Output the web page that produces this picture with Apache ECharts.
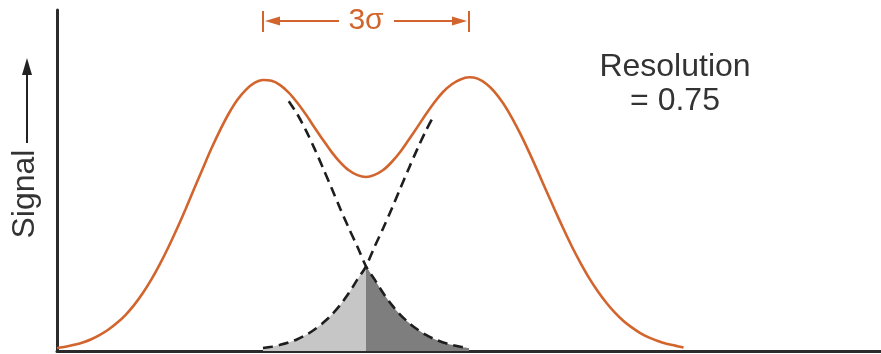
<!DOCTYPE html>
<html>
<head>
<meta charset="utf-8">
<script src="https://cdn.jsdelivr.net/npm/echarts@6/dist/echarts.min.js"></script>
<style>html,body{margin:0;padding:0;background:#fff;}#chart{width:881px;height:354px;}</style>
</head>
<body>
<div id="chart"></div>
<script>
// Combined signal (orange)
const sumX = [0,0.125,0.25,0.375,0.5,0.625,0.75,0.875,1,1.125,1.25,1.375,1.5,1.625,1.75,1.875,2,2.125,2.25,2.375,2.5,2.625,2.75,2.875,3,3.125,3.25,3.375,3.5,3.625,3.75,3.875,4,4.125,4.25,4.375,4.5,4.625,4.75,4.875,5,5.125,5.25,5.375,5.5,5.625,5.75,5.875,6,6.125,6.25,6.375,6.5,6.625,6.75,6.875,7,7.125,7.25,7.375,7.5,7.625,7.75,7.875,8,8.125,8.25,8.375,8.5,8.625,8.75,8.875,9,9.125];
const sumY = [0.011,0.016,0.023,0.032,0.044,0.060,0.080,0.105,0.135,0.172,0.216,0.267,0.325,0.389,0.458,0.531,0.607,0.682,0.756,0.824,0.885,0.936,0.974,1.000,1.011,1.008,0.992,0.964,0.926,0.882,0.834,0.787,0.742,0.704,0.674,0.656,0.649,0.657,0.675,0.705,0.743,0.789,0.836,0.884,0.929,0.967,0.995,1.013,1.021,1.016,0.997,0.966,0.923,0.870,0.809,0.742,0.671,0.598,0.526,0.456,0.389,0.328,0.272,0.223,0.180,0.143,0.112,0.087,0.066,0.050,0.037,0.027,0.020,0.013];
// Left component peak (dashed part)
const leftX = [3.375,3.5,3.625,3.75,3.875,4,4.125,4.25,4.375,4.5,4.625,4.75,4.875,5,5.125,5.25,5.375,5.5,5.625,5.75,5.875,6];
const leftY = [0.932,0.883,0.823,0.755,0.682,0.607,0.531,0.458,0.389,0.316,0.267,0.216,0.172,0.135,0.105,0.080,0.060,0.044,0.032,0.023,0.016,0.011];
// Right component peak (dashed part)
const rightX = [3,3.125,3.25,3.375,3.5,3.625,3.75,3.875,4,4.125,4.25,4.375,4.5,4.625,4.75,4.875,5,5.125,5.25,5.375,5.5];
const rightY = [0.011,0.016,0.023,0.032,0.044,0.060,0.080,0.105,0.135,0.172,0.216,0.267,0.316,0.389,0.458,0.531,0.607,0.682,0.755,0.823,0.883];
// Peak centres (3 sigma apart)
const peakCentres = [3, 6];
const sepLabel = '3σ';
const resolutionText = ['Resolution', '= 0.75'];
const yLabel = 'Signal';

const ORANGE = '#d2652d';
const FONT = '"Liberation Sans", Arial, Helvetica, sans-serif';

function pairs(xs, ys) { return xs.map((x, i) => [x, ys[i]]); }
const crossIdxR = rightX.indexOf(4.5);
const crossIdxL = leftX.indexOf(4.5);

const chart = echarts.init(document.getElementById('chart'), null, {renderer: 'canvas'});
const axisLine = {show: true, onZero: false, lineStyle: {color: '#2b2b2b', width: 3}};
chart.setOption({
  animation: false,
  grid: {left: 57, right: 0, top: 10, bottom: 3},
  xAxis: {type: 'value', min: 0, max: 12, axisLine: axisLine, axisTick: {show: false}, axisLabel: {show: false}, splitLine: {show: false}},
  yAxis: {type: 'value', min: 0, max: 1.272, axisLine: axisLine, axisTick: {show: false}, axisLabel: {show: false}, splitLine: {show: false}},
  series: [
    {type: 'line', data: pairs(rightX.slice(0, crossIdxR + 1), rightY.slice(0, crossIdxR + 1)), smooth: 0.3, symbol: 'none',
     lineStyle: {width: 0}, areaStyle: {color: '#c6c6c6', opacity: 1}, z: 1},
    {type: 'line', data: pairs(leftX.slice(crossIdxL), leftY.slice(crossIdxL)), smooth: 0.3, symbol: 'none',
     lineStyle: {width: 0}, areaStyle: {color: '#7e7e7e', opacity: 1}, z: 1},
    {type: 'line', data: pairs(leftX, leftY), smooth: 0.3, symbol: 'none',
     lineStyle: {color: '#1e1e1e', width: 2.6, type: [10, 6]}, z: 2},
    {type: 'line', data: pairs(rightX, rightY), smooth: 0.3, symbol: 'none',
     lineStyle: {color: '#1e1e1e', width: 2.6, type: [10, 6]}, z: 2},
    {type: 'line', data: pairs(sumX, sumY), smooth: 0.3, symbol: 'none',
     lineStyle: {color: ORANGE, width: 2.6}, z: 3}
  ]
});

const x1 = chart.convertToPixel({xAxisIndex: 0}, peakCentres[0]);
const x2 = chart.convertToPixel({xAxisIndex: 0}, peakCentres[1]);
const mid = (x1 + x2) / 2;
const ay = 21;
chart.setOption({
  graphic: [
    {type: 'line', shape: {x1: x1, y1: 11, x2: x1, y2: 32}, style: {stroke: ORANGE, lineWidth: 2}},
    {type: 'line', shape: {x1: x2, y1: 11, x2: x2, y2: 32}, style: {stroke: ORANGE, lineWidth: 2}},
    {type: 'line', shape: {x1: x1 + 8, y1: ay, x2: mid - 27, y2: ay}, style: {stroke: ORANGE, lineWidth: 2}},
    {type: 'line', shape: {x1: mid + 28, y1: ay, x2: x2 - 8, y2: ay}, style: {stroke: ORANGE, lineWidth: 2}},
    {type: 'polygon', shape: {points: [[x1 + 2, ay], [x1 + 17, ay - 4.5], [x1 + 17, ay + 4.5]]}, style: {fill: ORANGE}},
    {type: 'polygon', shape: {points: [[x2 - 2, ay], [x2 - 17, ay - 4.5], [x2 - 17, ay + 4.5]]}, style: {fill: ORANGE}},
    {type: 'text', x: mid, y: ay, style: {text: sepLabel, font: '30px ' + FONT, fill: ORANGE, align: 'center', verticalAlign: 'middle'}},
    {type: 'text', x: 675, y: 50, style: {text: resolutionText.join('\n'), font: '32px ' + FONT, lineHeight: 34, fill: '#333', align: 'center', verticalAlign: 'top'}},
    {type: 'text', x: 25, y: 194, rotation: Math.PI / 2, style: {text: yLabel, font: '32px ' + FONT, fill: '#333', align: 'center', verticalAlign: 'middle'}},
    {type: 'line', shape: {x1: 27, y1: 143, x2: 27, y2: 70}, style: {stroke: '#222', lineWidth: 2}},
    {type: 'polygon', shape: {points: [[27, 58], [22, 75], [32, 75]]}, style: {fill: '#222'}}
  ]
});
</script>
</body>
</html>
